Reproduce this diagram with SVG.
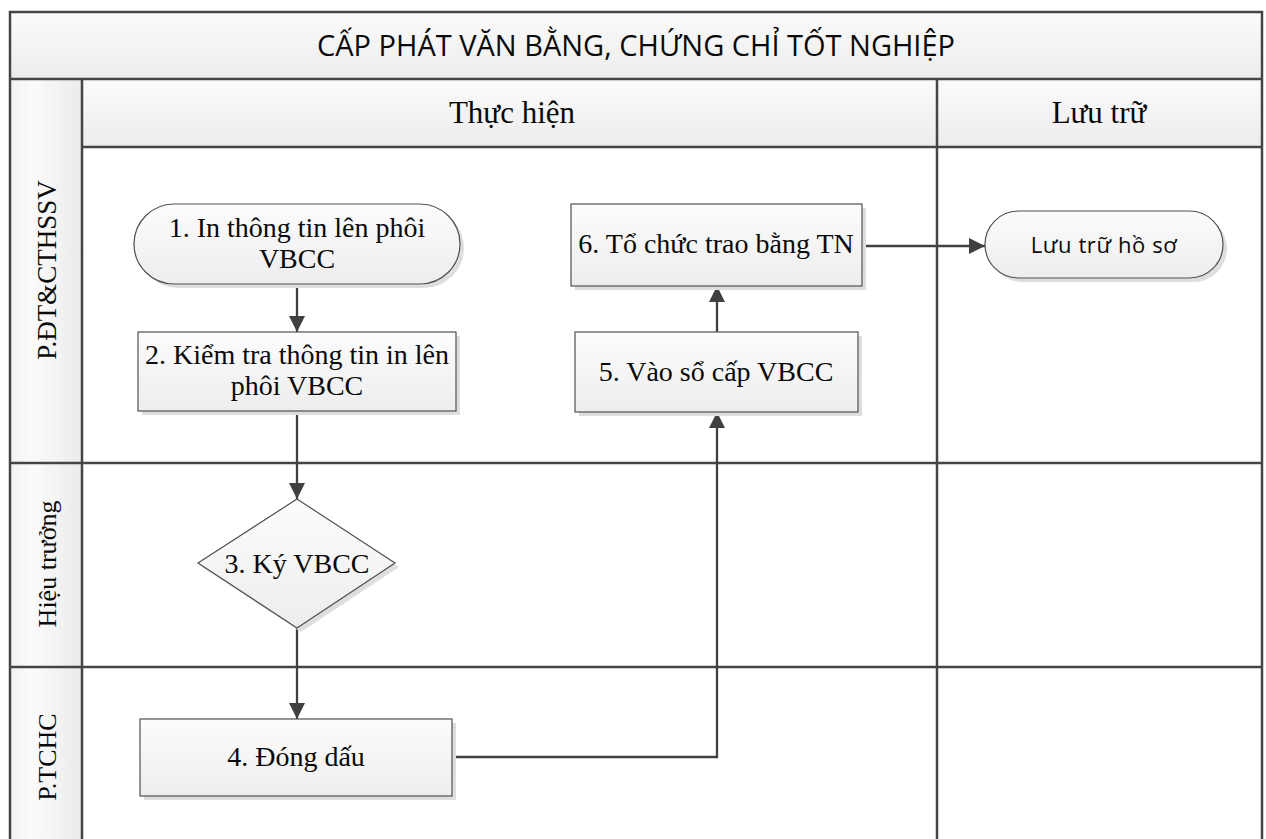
<svg xmlns="http://www.w3.org/2000/svg" width="1266" height="839" viewBox="0 0 1266 839">
<defs>
<linearGradient id="gHead" x1="0" y1="0" x2="0" y2="1"><stop offset="0" stop-color="#fbfbfb"/><stop offset="1" stop-color="#ececec"/></linearGradient>
<linearGradient id="gLane" x1="0" y1="0" x2="1" y2="0"><stop offset="0" stop-color="#f2f2f2"/><stop offset="0.3" stop-color="#fbfbfb"/><stop offset="1" stop-color="#ebebeb"/></linearGradient>
<linearGradient id="gNode" x1="0" y1="0" x2="0" y2="1"><stop offset="0" stop-color="#fcfcfc"/><stop offset="1" stop-color="#ededed"/></linearGradient>
<marker id="arr" markerUnits="userSpaceOnUse" markerWidth="17" markerHeight="16" refX="16" refY="8" orient="auto"><path d="M0,0 L16,8 L0,16 z" fill="#404040"/></marker>
<style>
.frame{fill:none;stroke:#454545;stroke-width:2.5}
.node{fill:url(#gNode);stroke:#505050;stroke-width:1.2}
.shadow{fill:#dedede}
.serif{font-family:"Liberation Serif","Times New Roman",serif;fill:#0a0a0a;text-anchor:middle}
.sans{font-family:"Open Sans","Noto Sans",sans-serif;fill:#0a0a0a;text-anchor:middle}
.nt{font-size:28px}
.conn{fill:none;stroke:#404040;stroke-width:2.3;marker-end:url(#arr)}
</style>
</defs>
<rect width="1266" height="839" fill="#ffffff"/>
<g id="pool">
<rect x="10" y="12" width="1252" height="67" fill="url(#gHead)"/>
<rect x="82" y="79" width="1180" height="68" fill="url(#gHead)"/>
<rect x="10" y="79" width="72" height="760" fill="url(#gLane)"/>
<path class="frame" d="M10,839 V12 H1262 V839 M10,79 H1262 M82,79 V839 M82,147 H1262 M937,79 V839 M10,463 H1262 M10,667 H1262"/>
<text class="sans" x="636" y="56" font-size="29">CẤP PHÁT VĂN BẰNG, CHỨNG CHỈ TỐT NGHIỆP</text>
<text class="serif" x="512" y="123" font-size="31">Thực hiện</text>
<text class="serif" x="1099" y="123" font-size="31">Lưu trữ</text>
<text class="serif" font-size="27" transform="translate(56,270) rotate(-90)">P.ĐT&amp;CTHSSV</text>
<text class="serif" font-size="26" transform="translate(56,564) rotate(-90)">Hiệu trưởng</text>
<text class="serif" font-size="26" transform="translate(56,757) rotate(-90)">P.TCHC</text>
</g>
<g id="connectors">
<path class="conn" d="M297,284 V332"/>
<path class="conn" d="M297,411 V499"/>
<path class="conn" d="M297,628 V719"/>
<path class="conn" d="M456,757 H717 V412"/>
<path class="conn" d="M717,332 V286"/>
<path class="conn" d="M862,246 H985"/>
</g>
<g id="n1">
<rect class="shadow" x="138" y="208" width="326" height="80" rx="40"/>
<rect class="node" x="134" y="204" width="326" height="80" rx="40"/>
<text class="serif nt" x="297" y="237">1. In thông tin lên phôi</text>
<text class="serif nt" x="297" y="268">VBCC</text>
</g>
<g id="n2">
<rect class="shadow" x="142" y="336" width="318" height="79"/>
<rect class="node" x="138" y="332" width="318" height="79"/>
<text class="serif nt" x="297" y="364">2. Kiểm tra thông tin in lên</text>
<text class="serif nt" x="297" y="395">phôi VBCC</text>
</g>
<g id="n3">
<path class="shadow" d="M301,503 L399,567 L301,632 L202,567 z"/>
<path class="node" d="M297,499 L395,563 L297,628 L198,563 z"/>
<text class="serif nt" x="297" y="573">3. Ký VBCC</text>
</g>
<g id="n4">
<rect class="shadow" x="144" y="723" width="312" height="77"/>
<rect class="node" x="140" y="719" width="312" height="77"/>
<text class="serif nt" x="296" y="766">4. Đóng dấu</text>
</g>
<g id="n5">
<rect class="shadow" x="579" y="336" width="283" height="80"/>
<rect class="node" x="575" y="332" width="283" height="80"/>
<text class="serif nt" x="716" y="381">5. Vào sổ cấp VBCC</text>
</g>
<g id="n6">
<rect class="shadow" x="575" y="208" width="291" height="82"/>
<rect class="node" x="571" y="204" width="291" height="82"/>
<text class="serif nt" x="716" y="253">6. Tổ chức trao bằng TN</text>
</g>
<g id="n7">
<rect class="shadow" x="989" y="215" width="238" height="67" rx="33.5"/>
<rect class="node" x="985" y="211" width="238" height="67" rx="33.5"/>
<text class="sans" x="1104" y="253" font-size="22" letter-spacing="0.6">Lưu trữ hồ sơ</text>
</g>
</svg>
